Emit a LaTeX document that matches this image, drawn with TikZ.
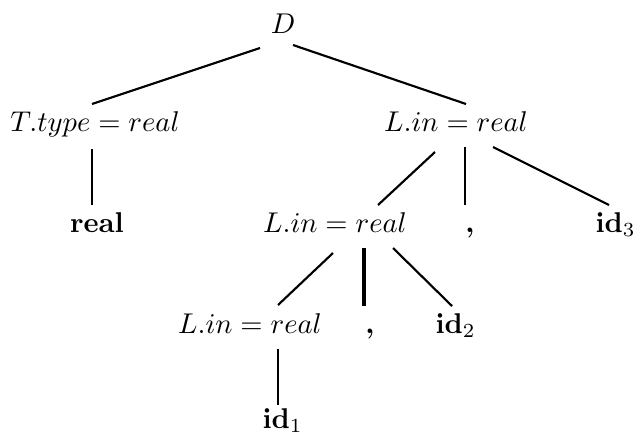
\documentclass[tikz,border=0pt]{standalone}
\begin{document}
\begin{tikzpicture}[x=0.35pt,y=-0.35pt,
  lbl/.style={inner sep=0pt,anchor=base},
  lblw/.style={inner sep=0pt,anchor=base west},
  edge/.style={line width=0.75pt},
  edgeb/.style={line width=1.1pt}]
\useasboundingbox (0,0) rectangle (634,438);
\node[lbl] (D) at (283,33) {$D$};
\node[lbl] (T) at (95,131) {$T.type = real$};
\node[lbl] (L1) at (456,131) {$L.in = real$};
\node[lbl] (R) at (97,232) {$\mathbf{real}$};
\node[lbl] (L2) at (335,232) {$L.in = real$};
\node[lbl] (C1) at (470,232) {\textbf{,}};
\node[lblw] (I3) at (595,232) {$\mathbf{id}_3$};
\node[lbl] (L3) at (250,333) {$L.in = real$};
\node[lbl] (C2) at (370,333) {\textbf{,}};
\node[lblw] (I2) at (435,333) {$\mathbf{id}_2$};
\node[lblw] (I1) at (262,428) {$\mathbf{id}_1$};
\draw[edge] ([shift={(-23,15)}]D.base) -- ([shift={(-3,-27)}]T.base);
\draw[edge] ([shift={(10,12)}]D.base) -- ([shift={(10,-27)}]L1.base);
\draw[edge] ([shift={(-3,18)}]T.base) -- ([shift={(-5,-27)}]R.base);
\draw[edge] ([shift={(-21,21)}]L1.base) -- ([shift={(43,-27)}]L2.base);
\draw[edge] ([shift={(9,16)}]L1.base) -- ([shift={(-5,-27)}]C1.base);
\draw[edge] ([shift={(37,16)}]L1.base) -- ([shift={(14,-27)}]I3.base west);
\draw[edge] ([shift={(-2,21)}]L2.base) -- ([shift={(28,-28)}]L3.base);
\draw[edgeb] ([shift={(29,16)}]L2.base) -- ([shift={(-6,-27)}]C2.base);
\draw[edge] ([shift={(58,16)}]L2.base) -- ([shift={(17,-27)}]I2.base west);
\draw[edge] ([shift={(28,16)}]L3.base) -- ([shift={(16,-23)}]I1.base west);
\end{tikzpicture}
\end{document}
